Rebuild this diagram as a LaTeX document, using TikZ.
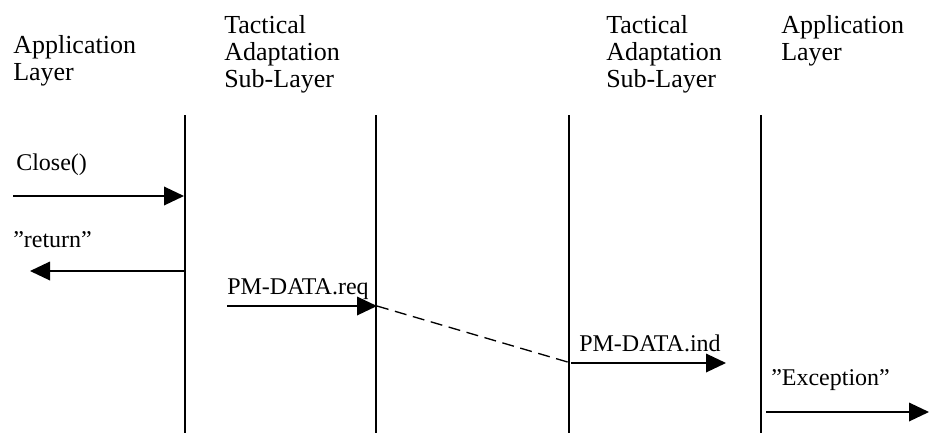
\documentclass[tikz,border=0pt]{standalone}
\usepackage{fontspec}
\setmainfont{Liberation Serif}
\usepackage{tikz}
\usetikzlibrary{arrows.meta}

\begin{document}
\begin{tikzpicture}[x=0.75pt, y=-0.75pt,
  every node/.style={inner sep=0pt, font=\fontsize{18}{20.25}\selectfont},
  head/.style={anchor=north west, align=left, font=\fontsize{19.5}{20.25}\selectfont},
  msg/.style={anchor=base west},
  life/.style={line width=1pt},
  call/.style={line width=1pt, -{Triangle[length=15pt, width=14pt]}}]
  \useasboundingbox (0,0) rectangle (929,433);

  % layer headings
  \node[head] (appl) at (13,35.5) {Application\\Layer};
  \node[head] (tasl) at (224,15.5) {Tactical\\Adaptation\\Sub-Layer};
  \node[head] (tasr) at (606,15.5) {Tactical\\Adaptation\\Sub-Layer};
  \node[head] (appr) at (781,15.5) {Application\\Layer};

  % lifelines
  \coordinate (l1top) at (185,115);  \coordinate (l1bot) at (185,433);
  \coordinate (l2top) at (376,115);  \coordinate (l2bot) at (376,433);
  \coordinate (l3top) at (569,115);  \coordinate (l3bot) at (569,433);
  \coordinate (l4top) at (761,115);  \coordinate (l4bot) at (761,433);
  \draw[life] (l1top) -- (l1bot);
  \draw[life] (l2top) -- (l2bot);
  \draw[life] (l3top) -- (l3bot);
  \draw[life] (l4top) -- (l4bot);

  % message labels
  \node[msg] (close) at (16,170) {Close()};
  \node[msg] (ret) at (13,247) {”return”};
  \node[msg] (req) at (227,294) {PM-DATA.req};
  \node[msg] (ind) at (579,351) {PM-DATA.ind};
  \node[msg] (exc) at (771,385) {”Exception”};

  % message end points
  \coordinate (closeA) at (13,196);   \coordinate (closeB) at (184,196);
  \coordinate (retA) at (185,271);    \coordinate (retB) at (30,271);
  \coordinate (reqA) at (227,306);    \coordinate (reqB) at (377,306);
  \coordinate (indA) at (571,363);    \coordinate (indB) at (726,363);
  \coordinate (excA) at (766,412);    \coordinate (excB) at (929,412);

  % Arrows for messages
  \draw[call] (closeA) -- (closeB);
  \draw[call] (retA) -- (retB);
  \draw[call] (reqA) -- (reqB);
  \draw[line width=1pt, dash pattern=on 9pt off 5pt] (reqB) -- (indA);
  \draw[call] (indA) -- (indB);
  \draw[call] (excA) -- (excB);
\end{tikzpicture}
\end{document}
